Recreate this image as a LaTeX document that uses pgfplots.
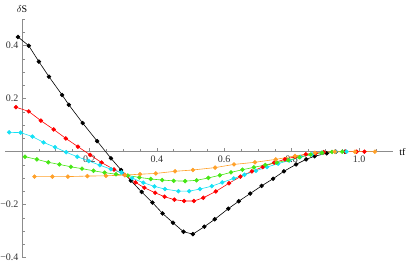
\documentclass[border=0pt]{standalone}
\usepackage{fontspec}
\setmainfont{Liberation Serif}
\usepackage{pgfplots}
\pgfplotsset{compat=1.18}
\definecolor{cOrange}{RGB}{255,160,40}
\definecolor{cGreen}{RGB}{70,230,20}
\definecolor{cCyan}{RGB}{20,225,245}
\definecolor{cRed}{RGB}{255,0,0}
\begin{document}
\begin{tikzpicture}
\begin{axis}[
  at={(0,0)}, anchor=south west,
  scale only axis, width=387.6pt, height=238.5pt,
  axis lines=middle, axis line style={-, draw=black!45, line width=0.5pt},
  xmin=-0.05, xmax=1.1, ymin=-0.4, ymax=0.5,
  xtick={0.2,0.4,0.6,0.8,1.0}, xticklabels={0.2,0.4,0.6,0.8,1.0},
  ytick={-0.4,-0.2,0.2,0.4}, yticklabels={−0.4,−0.2,0.2,0.4},
  minor xtick={0.05,0.1,0.15,0.25,0.3,0.35,0.45,0.5,0.55,0.65,0.7,0.75,0.85,0.9,0.95,1.05},
  minor ytick={-0.35,-0.3,-0.25,-0.15,-0.1,-0.05,0.05,0.1,0.15,0.25,0.3,0.35,0.45,0.5},
  tick align=inside,
  major tick length=4pt, minor tick length=2.5pt,
  every tick/.style={draw=black!45, line width=0.5pt},
  tick label style={font=\fontsize{10}{11}\selectfont, text=black!80},
  x tick label style={yshift=-1pt},
  xlabel={tf}, ylabel={$\delta$S},
  xlabel style={at={(current axis.right of origin)}, anchor=west, xshift=3pt, font=\fontsize{10}{11}\selectfont},
  ylabel style={at={(current axis.above origin)}, anchor=south, yshift=3pt, font=\fontsize{10}{11}\selectfont},
  clip=false,
  every axis plot/.append style={line width=0.6pt, mark=*, mark size=1.9pt},
]
\addplot[color=black, mark options={fill=black}] coordinates {
(-0.012,0.433)(0.020,0.400)(0.050,0.340)(0.080,0.283)(0.119,0.214)(0.139,0.177)
(0.180,0.108)(0.223,0.040)(0.264,-0.025)(0.294,-0.069)(0.323,-0.109)(0.355,-0.152)
(0.387,-0.192)(0.417,-0.233)(0.448,-0.268)(0.479,-0.302)(0.507,-0.311)(0.541,-0.283)
(0.572,-0.255)(0.612,-0.215)(0.643,-0.187)(0.677,-0.158)(0.711,-0.129)(0.745,-0.102)
(0.777,-0.074)(0.813,-0.048)(0.843,-0.029)(0.868,-0.017)(0.904,-0.006)(0.931,0)(0.958,0)};
\addplot[color=cRed, mark options={fill=cRed}] coordinates {
(-0.018,0.168)(0.020,0.152)(0.056,0.117)(0.094,0.084)(0.130,0.050)(0.166,0.019)
(0.202,-0.012)(0.236,-0.041)(0.273,-0.067)(0.305,-0.088)(0.337,-0.116)(0.363,-0.136)
(0.395,-0.155)(0.423,-0.170)(0.452,-0.181)(0.481,-0.186)(0.510,-0.186)(0.538,-0.174)
(0.575,-0.150)(0.614,-0.119)(0.648,-0.094)(0.682,-0.074)(0.714,-0.058)(0.748,-0.041)
(0.780,-0.029)(0.810,-0.019)(0.842,-0.010)(0.871,-0.006)(0.895,-0.002)(0.93,0)(0.96,0)
(0.993,0)(1.016,0)};
\addplot[color=cCyan, mark options={fill=cCyan}] coordinates {
(-0.038,0.073)(-0.004,0.072)(0.031,0.057)(0.064,0.035)(0.098,0.017)(0.131,-0.002)
(0.164,-0.019)(0.198,-0.035)(0.231,-0.051)(0.264,-0.066)(0.295,-0.078)(0.327,-0.100)
(0.360,-0.117)(0.393,-0.131)(0.424,-0.141)(0.464,-0.149)(0.496,-0.149)(0.528,-0.141)
(0.563,-0.130)(0.594,-0.116)(0.628,-0.101)(0.660,-0.087)(0.694,-0.072)(0.727,-0.058)
(0.760,-0.045)(0.793,-0.033)(0.826,-0.020)(0.860,-0.010)(0.890,-0.004)(0.930,0)(0.963,0)};
\addplot[color=cGreen, mark options={fill=cGreen}] coordinates {
(0.009,-0.019)(0.044,-0.029)(0.078,-0.040)(0.111,-0.048)(0.145,-0.057)(0.178,-0.064)
(0.212,-0.072)(0.245,-0.079)(0.279,-0.085)(0.314,-0.090)(0.348,-0.097)(0.382,-0.103)
(0.416,-0.107)(0.450,-0.110)(0.484,-0.111)(0.518,-0.108)(0.553,-0.099)(0.587,-0.089)
(0.620,-0.078)(0.654,-0.068)(0.688,-0.059)(0.722,-0.050)(0.756,-0.041)(0.790,-0.032)
(0.823,-0.021)(0.856,-0.011)(0.890,-0.004)(0.920,-0.001)(0.950,0)};
\addplot[color=cOrange, mark options={fill=cOrange}] coordinates {
(0.037,-0.094)(0.090,-0.094)(0.136,-0.094)(0.194,-0.092)(0.249,-0.091)(0.306,-0.088)
(0.350,-0.085)(0.397,-0.082)(0.454,-0.074)(0.507,-0.069)(0.573,-0.060)(0.629,-0.048)
(0.691,-0.040)(0.753,-0.029)(0.810,-0.016)(0.869,-0.004)(0.928,0)(0.988,0)(1.047,0)};
\end{axis}
\pgfresetboundingbox
\path (-5.15pt,-6.3pt) rectangle (403.85pt,257.7pt);
\end{tikzpicture}
\end{document}
